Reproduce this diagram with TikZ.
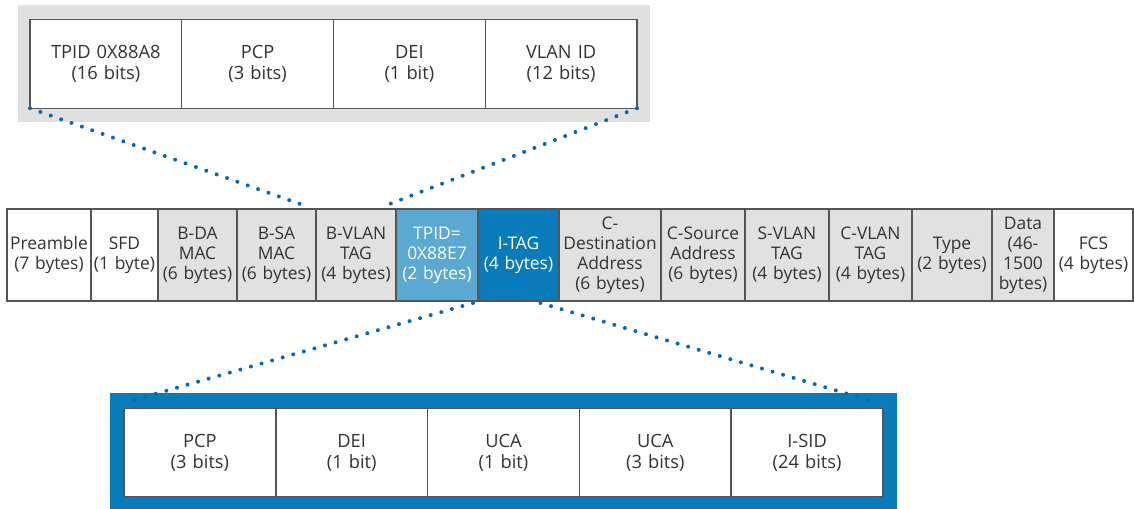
\documentclass[tikz,border=0pt]{standalone}
\usepackage{fontspec}
\setmainfont{Open Sans}
\usetikzlibrary{positioning,calc}
\definecolor{framegray}{HTML}{E0E0E0}
\definecolor{cellgray}{HTML}{E1E1E1}
\definecolor{tagblue}{HTML}{0A7BBA}
\definecolor{tpidblue}{HTML}{5AA9D3}
\definecolor{dotblue}{HTML}{0B68AE}
\definecolor{edgegray}{HTML}{555555}
\definecolor{txtgray}{HTML}{333333}
\tikzset{
  cell/.style={draw=edgegray, line width=0.8pt, fill=white, inner sep=0pt, outer sep=0pt,
               align=center, text=txtgray, font=\fontsize{9.9}{11.4}\selectfont,
               minimum height=1.84cm, text width=#1},
  graycell/.style={cell=#1, fill=cellgray},
  bitcell/.style={cell=3.035cm, minimum height=1.77cm, font=\fontsize{10.4}{12}\selectfont},
  zoomline/.style={draw=dotblue, line width=0.08cm, line cap=round, dash pattern=on 0pt off 0.22cm},
}
\begin{document}
\begin{tikzpicture}[x=0.02cm,y=-0.02cm]
\useasboundingbox (0,0) rectangle (1134,508);
% backdrops
\fill[framegray] (18,5) rectangle (650,122);
\fill[tagblue] (110,393) rectangle (897,512);
% S-VLAN tag fields
\node[bitcell] (tpidf) at (105.9,64) {TPID 0X88A8\\(16 bits)};
\node[bitcell] (pcpf) at (257.6,64) {PCP\\(3 bits)};
\node[bitcell] (deif) at (409.4,64) {DEI\\(1 bit)};
\node[bitcell] (vlanf) at (561.1,64) {VLAN ID\\(12 bits)};
% frame
\node[cell=1.68cm] (pre) at (49,255) {Preamble\\(7 bytes)};
\node[cell=1.34cm] (sfd) at (124.5,255) {SFD\\(1 byte)};
\node[graycell=1.58cm] (bda) at (197.5,255) {B-DA\\MAC\\(6 bytes)};
\node[graycell=1.58cm] (bsa) at (276.5,255) {B-SA\\MAC\\(6 bytes)};
\node[graycell=1.6cm] (bvlan) at (356,255) {B-VLAN\\TAG\\(4 bytes)};
\node[cell=1.64cm, fill=tpidblue, text=white] (tpid) at (437,255) {TPID=\\0X88E7\\(2 bytes)};
\node[cell=1.62cm, fill=tagblue, text=white] (itag) at (518.5,255) {I-TAG\\(4 bytes)};
\node[graycell=2.04cm] (cda) at (610,255) {C-\\Destination\\Address\\(6 bytes)};
\node[graycell=1.68cm] (csa) at (703,255) {C-Source\\Address\\(6 bytes)};
\node[graycell=1.68cm] (svlan) at (787,255) {S-VLAN\\TAG\\(4 bytes)};
\node[graycell=1.66cm] (cvlan) at (870.5,255) {C-VLAN\\TAG\\(4 bytes)};
\node[graycell=1.6cm] (type) at (952,255) {Type\\(2 bytes)};
\node[graycell=1.24cm] (data) at (1023,255) {Data\\(46-\\1500\\bytes)};
\node[cell=1.58cm] (fcs) at (1093.5,255) {FCS\\(4 bytes)};
% I-TAG fields
\node[bitcell] (pcpb) at (199.9,452.5) {PCP\\(3 bits)};
\node[bitcell] (deib) at (351.7,452.5) {DEI\\(1 bit)};
\node[bitcell] (ucab) at (503.5,452.5) {UCA\\(1 bit)};
\node[bitcell] (ucac) at (655.3,452.5) {UCA\\(3 bits)};
\node[bitcell] (isid) at (807.1,452.5) {I-SID\\(24 bits)};
% zoom lines
\draw[zoomline] (tpidf.south west) -- ($(bvlan.north west)+(-13,-4)$);
\draw[zoomline] (vlanf.south east) -- ($(bvlan.north east)+(-9,-4)$);
\draw[zoomline] ($(itag.south west)+(-5,2)$) -- ($(pcpb.north west)+(2,-6)$);
\draw[zoomline] ($(itag.south)+(22,2)$) -- ($(isid.north east)+(-7,-6)$);
\end{tikzpicture}
\end{document}
